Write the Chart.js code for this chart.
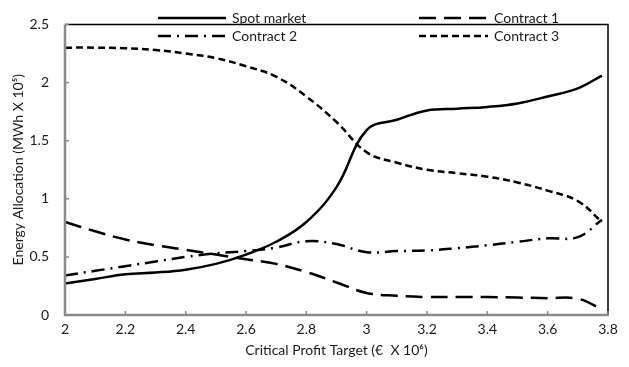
<!DOCTYPE html>
<html>
<head>
<meta charset="utf-8">
<script src="https://cdn.jsdelivr.net/npm/chart.js@4"></script>
<style>
  html, body { margin: 0; padding: 0; background: #fff; }
  #wrap { width: 629px; height: 367px; }
</style>
</head>
<body>
<div id="wrap"><canvas id="c" width="629" height="367"></canvas></div>
<script>
// Critical profit target (€ x 10^6)
const targets = [2.0, 2.1, 2.2, 2.3, 2.4, 2.5, 2.6, 2.7, 2.8, 2.9, 3.0, 3.1, 3.2, 3.3, 3.4, 3.5, 3.6, 3.7, 3.78];

// Energy allocation (MWh x 10^5)
const spotMarket = [0.27, 0.31, 0.35, 0.365, 0.39, 0.44, 0.52, 0.63, 0.80, 1.10, 1.59, 1.68, 1.76, 1.775, 1.79, 1.82, 1.88, 1.95, 2.06];
const contract1  = [0.80, 0.72, 0.65, 0.60, 0.56, 0.52, 0.48, 0.44, 0.37, 0.28, 0.19, 0.165, 0.155, 0.155, 0.155, 0.15, 0.145, 0.14, 0.05];
const contract2  = [0.34, 0.38, 0.42, 0.46, 0.50, 0.53, 0.55, 0.58, 0.635, 0.61, 0.54, 0.55, 0.555, 0.575, 0.60, 0.63, 0.66, 0.67, 0.82];
const contract3  = [2.30, 2.30, 2.295, 2.28, 2.25, 2.21, 2.14, 2.05, 1.88, 1.66, 1.40, 1.31, 1.25, 1.22, 1.19, 1.14, 1.07, 0.98, 0.80];

const seriesNames = ['Spot market', 'Contract 1', 'Contract 2', 'Contract 3'];
const xTicks = [2, 2.2, 2.4, 2.6, 2.8, 3, 3.2, 3.4, 3.6, 3.8];
const yTicks = [0, 0.5, 1, 1.5, 2, 2.5];

const FONT = 'Lato, "Open Sans", sans-serif';
const TEXT = '#1a1a1a';
const pts = arr => arr.map((v, i) => ({ x: targets[i], y: v }));

const dashes = [[], [17, 8], [13, 6, 2, 6], [7, 4]];
const values = [spotMarket, contract1, contract2, contract3];

const datasets = values.map((v, i) => ({
  label: seriesNames[i],
  data: pts(v),
  borderColor: '#000',
  borderWidth: 2.5,
  borderDash: dashes[i],
  pointRadius: 0,
  tension: 0.4,
  fill: false
}));

// Frame: grey left/bottom axes with inward ticks, black top/right border
const framePlugin = {
  id: 'frame',
  afterDatasetsDraw(chart) {
    const { ctx, chartArea: a, scales } = chart;
    ctx.save();
    ctx.strokeStyle = '#000';
    ctx.lineWidth = 1.5;
    ctx.beginPath();
    ctx.moveTo(a.left, a.top); ctx.lineTo(a.right, a.top); ctx.lineTo(a.right, a.bottom);
    ctx.stroke();
    ctx.strokeStyle = '#8a8a8a';
    ctx.lineWidth = 1.5;
    ctx.beginPath();
    xTicks.forEach(t => {
      const px = scales.x.getPixelForValue(t);
      ctx.moveTo(px, a.bottom); ctx.lineTo(px, a.bottom - 4);
    });
    yTicks.forEach(t => {
      const py = scales.y.getPixelForValue(t);
      ctx.moveTo(a.left, py); ctx.lineTo(a.left + 4, py);
    });
    ctx.stroke();
    ctx.lineWidth = 2.5;
    ctx.beginPath();
    ctx.moveTo(a.left, a.top); ctx.lineTo(a.left, a.bottom); ctx.lineTo(a.right + 1, a.bottom);
    ctx.stroke();
    ctx.restore();
  }
};

// Two-column legend inside the plot area
const legendPlugin = {
  id: 'inlineLegend',
  afterDatasetsDraw(chart) {
    const { ctx } = chart;
    const slots = [
      { x1: 158, x2: 226, y: 18 },
      { x1: 419, x2: 488, y: 18 },
      { x1: 158, x2: 226, y: 36 },
      { x1: 419, x2: 488, y: 36 }
    ];
    ctx.save();
    chart.data.datasets.forEach((ds, i) => {
      const s = slots[i];
      ctx.strokeStyle = ds.borderColor;
      ctx.lineWidth = ds.borderWidth;
      ctx.setLineDash(ds.borderDash);
      ctx.beginPath();
      ctx.moveTo(s.x1, s.y); ctx.lineTo(s.x2, s.y);
      ctx.stroke();
      ctx.setLineDash([]);
      ctx.fillStyle = TEXT;
      ctx.font = '14px ' + FONT;
      ctx.textBaseline = 'middle';
      ctx.fillText(ds.label, s.x2 + 6, s.y);
    });
    ctx.restore();
  }
};

new Chart(document.getElementById('c'), {
  type: 'line',
  data: { datasets },
  options: {
    responsive: false,
    animation: false,
    layout: { padding: { top: 8, right: 21, left: 0, bottom: 8 } },
    plugins: { legend: { display: false }, tooltip: { enabled: false } },
    scales: {
      x: {
        type: 'linear',
        min: 2, max: 3.8,
        afterBuildTicks: s => { s.ticks = xTicks.map(v => ({ value: v })); },
        afterFit: s => { s.height = 44; },
        grid: { display: false, drawTicks: false },
        border: { display: false },
        ticks: {
          color: TEXT, font: { family: FONT, size: 14 }, padding: 6, maxRotation: 0,
          callback: v => String(v)
        },
        title: {
          display: true,
          text: 'Critical Profit Target (€  X 10⁶)',
          color: TEXT,
          font: { family: FONT, size: 14 },
          padding: { top: 0, bottom: 0 }
        }
      },
      y: {
        min: 0, max: 2.5,
        afterBuildTicks: s => { s.ticks = yTicks.map(v => ({ value: v })); },
        afterFit: s => { s.width = 65; },
        grid: { display: false, drawTicks: false },
        border: { display: false },
        ticks: {
          color: TEXT, font: { family: FONT, size: 14 }, padding: 16,
          callback: v => String(v)
        },
        title: {
          display: true,
          text: 'Energy Allocation (MWh X 10⁵)',
          color: TEXT,
          font: { family: FONT, size: 14 },
          padding: { top: 10, bottom: 0 }
        }
      }
    }
  },
  plugins: [framePlugin, legendPlugin]
});
</script>
</body>
</html>
